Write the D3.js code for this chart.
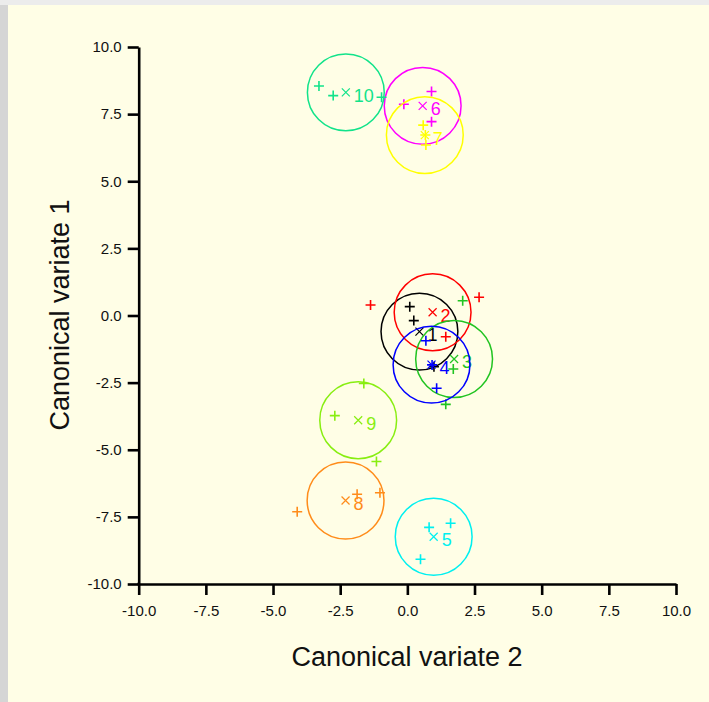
<!DOCTYPE html>
<html>
<head>
<meta charset="utf-8">
<script src="https://cdn.jsdelivr.net/npm/d3@7"></script>
<style>
  html, body { margin: 0; padding: 0; background: #d5d5d5; }
  svg { display: block; }
  .axis text { font-family: "Liberation Sans", Arial, sans-serif; font-size: 15px; fill: #111; }
  .title { font-family: "Liberation Sans", Arial, sans-serif; font-size: 27px; fill: #111; }
</style>
</head>
<body>
<svg id="chart" width="709" height="702"></svg>
<script>
// groups (canonical variate analysis, 10 groups)
const groups = [1, 2, 3, 4, 5, 6, 7, 8, 9, 10];
const groupColors = ['#000000', '#ff0000', '#22c422', '#0000ff', '#00f0f0',
                     '#ff00ff', '#ffff00', '#ff8c1a', '#88ee11', '#11e38a'];

// group means (x = canonical variate 2, y = canonical variate 1)
const meanX = [0.45, 0.94, 1.74, 0.90, 0.98, 0.57, 0.65, -2.30, -1.83, -2.29];
const meanY = [-0.60, 0.12, -1.62, -1.83, -8.24, 7.81, 6.72, -6.89, -3.90, 8.31];

// confidence circle radius (data units)
const circleRadius = 1.43;

// individual observations
const obsGroup = [1, 1, 1, 2, 2, 2, 3, 3, 3, 4, 4, 4, 5, 5, 5,
                  6, 6, 6, 7, 7, 7, 8, 8, 8, 9, 9, 9, 10, 10, 10];
const obsX = [0.09, 0.24, 0.99, -1.37, 2.67, 1.43, 2.06, 1.71, 1.43, 0.69, 1.09, 0.92,
              0.81, 1.61, 0.49, 0.90, -0.13, 0.90, 0.59, 0.69, 0.67, -4.10, -1.87, -1.02,
              -1.62, -2.70, -1.15, -3.29, -2.76, -0.96];
const obsY = [0.33, -0.19, -1.91, 0.39, 0.68, -0.79, 0.55, -1.99, -3.31, -0.94, -2.71, -1.84,
              -7.89, -7.74, -9.08, 8.34, 7.87, 7.22, 7.09, 6.35, 6.72, -7.31, -6.66, -6.60,
              -2.53, -3.73, -5.44, 8.55, 8.19, 8.13];

const xTicks = [-10, -7.5, -5, -2.5, 0, 2.5, 5, 7.5, 10];
const yTicks = [-10, -7.5, -5, -2.5, 0, 2.5, 5, 7.5, 10];

const svg = d3.select('#chart');

// page panel
svg.append('rect').attr('x', 0).attr('y', 0).attr('width', 709).attr('height', 5).attr('fill', '#ececec');
svg.append('rect').attr('x', 8).attr('y', 5).attr('width', 701).attr('height', 697).attr('fill', '#fffee6');

const x = d3.scaleLinear().domain([-10, 10]).range([138.7, 676]);
const y = d3.scaleLinear().domain([-10, 10]).range([584, 47]);
const fmt = d => d.toFixed(1);

const xAxis = svg.append('g')
  .attr('class', 'axis')
  .attr('transform', 'translate(0,584)')
  .call(d3.axisBottom(x).tickValues(xTicks).tickFormat(fmt).tickSize(11).tickSizeOuter(0).tickPadding(10));

const yAxis = svg.append('g')
  .attr('class', 'axis')
  .attr('transform', 'translate(138.7,0)')
  .call(d3.axisLeft(y).tickValues(yTicks).tickFormat(fmt).tickSize(11).tickSizeOuter(0).tickPadding(6));

[xAxis, yAxis].forEach(g => {
  g.select('.domain').attr('stroke', '#000').attr('stroke-width', 2.6);
  g.selectAll('.tick line').attr('stroke', '#000').attr('stroke-width', 2.6);
});
// close the corner so both axis lines meet
svg.append('line')
  .attr('x1', x(-10) - 1.3).attr('x2', x(-10) + 1.3)
  .attr('y1', y(-10)).attr('y2', y(-10))
  .attr('stroke', '#000').attr('stroke-width', 2.6);

svg.append('text')
  .attr('class', 'title')
  .attr('x', 407).attr('y', 666)
  .attr('text-anchor', 'middle')
  .text('Canonical variate 2');

svg.append('text')
  .attr('class', 'title')
  .attr('transform', 'translate(69,315) rotate(-90)')
  .attr('text-anchor', 'middle')
  .text('Canonical variate 1');

const plot = svg.append('g');
const rPx = x(circleRadius) - x(0);

groups.forEach((gId, i) => {
  const col = groupColors[i];
  const g = plot.append('g');

  g.append('circle')
    .attr('cx', x(meanX[i]))
    .attr('cy', y(meanY[i]))
    .attr('r', rPx)
    .attr('fill', 'none')
    .attr('stroke', col)
    .attr('stroke-width', 1.5);

  // observations as "+"
  const pts = obsGroup.map((o, k) => ({ o, px: x(obsX[k]), py: y(obsY[k]) }))
    .filter(d => d.o === gId);
  g.selectAll('path.obs')
    .data(pts)
    .enter()
    .append('path')
    .attr('class', 'obs')
    .attr('d', d => 'M' + (d.px - 5) + ',' + d.py + 'H' + (d.px + 5) +
                    'M' + d.px + ',' + (d.py - 5) + 'V' + (d.py + 5))
    .attr('stroke', col)
    .attr('stroke-width', 1.6)
    .attr('fill', 'none');

  // mean as "x"
  const cx = x(meanX[i]), cy = y(meanY[i]);
  g.append('path')
    .attr('d', 'M' + (cx - 4) + ',' + (cy - 4) + 'L' + (cx + 4) + ',' + (cy + 4) +
               'M' + (cx - 4) + ',' + (cy + 4) + 'L' + (cx + 4) + ',' + (cy - 4))
    .attr('stroke', col)
    .attr('stroke-width', 1.2)
    .attr('fill', 'none');

  g.append('text')
    .attr('x', cx + 8)
    .attr('y', cy + 3)
    .attr('dy', '0.36em')
    .attr('fill', col)
    .style('font-family', '"Liberation Sans", Arial, sans-serif')
    .style('font-size', '18px')
    .text(gId);
});
</script>
</body>
</html>
